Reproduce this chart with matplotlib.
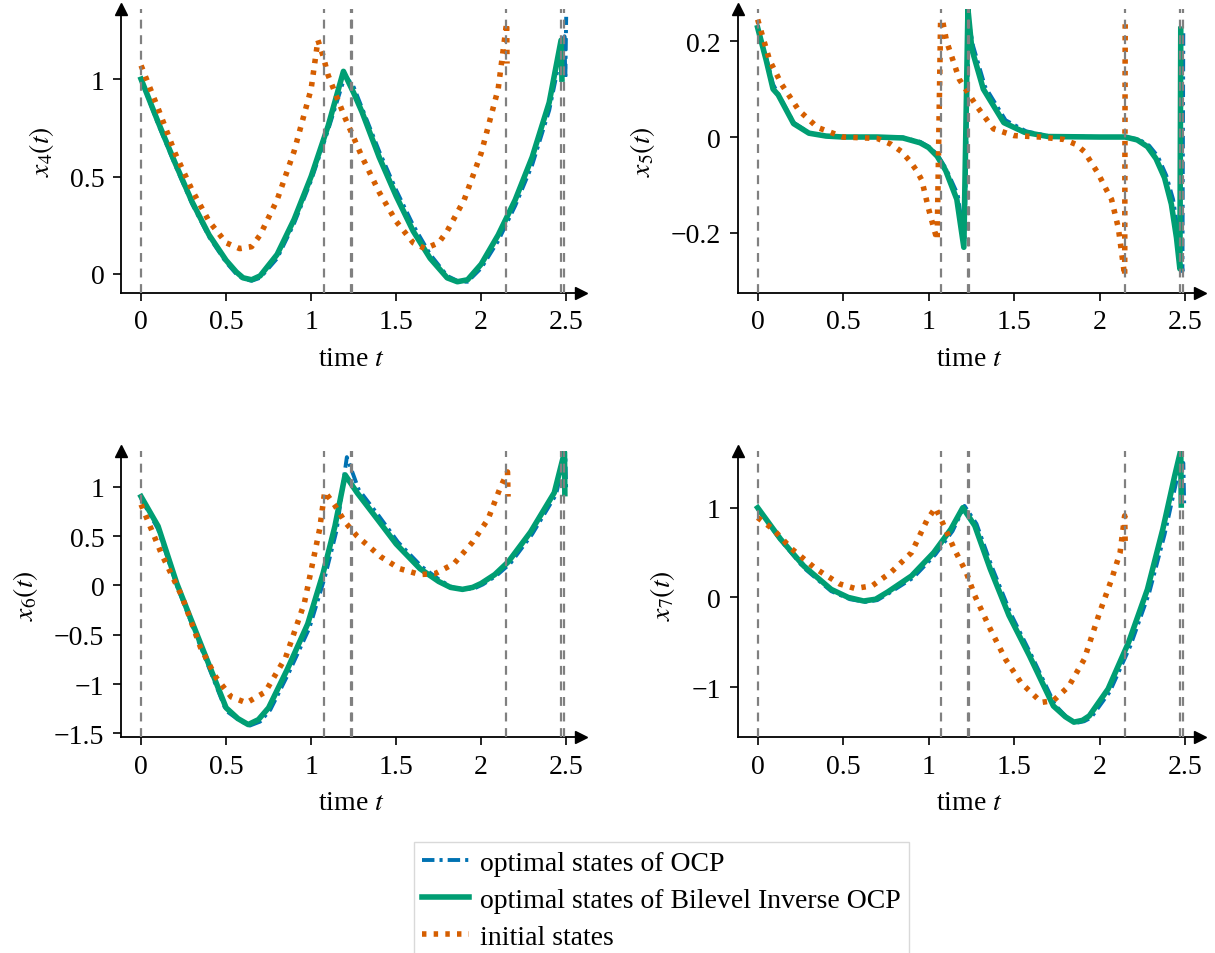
import numpy as np
import matplotlib
matplotlib.use("Agg")
import matplotlib.pyplot as plt

plt.rcParams['font.family'] = ['Liberation Serif', 'DejaVu Serif']
plt.rcParams['mathtext.fontset'] = 'stix'
plt.rcParams['font.size'] = 20

# switching times (gray dashed lines)
t_switch = [0.0, 1.075, 1.232, 1.238, 2.147, 2.468, 2.49]

# ---- x4 ----
t_bil4 = [0, 0.1, 0.2, 0.3, 0.4, 0.5, 0.56, 0.6, 0.65, 0.7, 0.8, 0.9, 1.0, 1.1, 1.19, 1.25, 1.3, 1.4, 1.5,
          1.6, 1.7, 1.8, 1.86, 1.92, 2.0, 2.1, 2.2, 2.3, 2.4, 2.47, 2.475]
x4_bil = [1.0, 0.78, 0.57, 0.37, 0.2, 0.07, 0.01, -0.02, -0.03, -0.01, 0.1, 0.28, 0.5, 0.76, 1.04, 0.93,
          0.83, 0.6, 0.4, 0.22, 0.08, -0.02, -0.04, -0.03, 0.05, 0.2, 0.38, 0.6, 0.88, 1.2, 1.0]
t_ocp4 = [0, 0.1, 0.2, 0.3, 0.4, 0.5, 0.56, 0.6, 0.65, 0.7, 0.8, 0.9, 1.0, 1.1, 1.2, 1.25, 1.3, 1.4, 1.5,
          1.6, 1.7, 1.8, 1.87, 1.92, 2.0, 2.1, 2.2, 2.3, 2.4, 2.49, 2.495, 2.5]
x4_ocp = [1.0, 0.77, 0.56, 0.36, 0.19, 0.06, 0.0, -0.025, -0.035, -0.02, 0.08, 0.26, 0.48, 0.74, 1.02,
          0.96, 0.85, 0.63, 0.43, 0.25, 0.1, -0.01, -0.04, -0.04, 0.03, 0.17, 0.35, 0.56, 0.84, 1.22, 1.0, 1.32]
t_ini4 = [0, 0.1, 0.2, 0.3, 0.4, 0.5, 0.58, 0.65, 0.7, 0.8, 0.9, 1.0, 1.04, 1.07, 1.1, 1.2, 1.3, 1.4,
          1.5, 1.6, 1.67, 1.75, 1.8, 1.9, 2.0, 2.1, 2.15, 2.152]
x4_ini = [1.07, 0.85, 0.62, 0.43, 0.27, 0.16, 0.13, 0.14, 0.2, 0.38, 0.63, 0.95, 1.2, 1.12, 1.02, 0.8, 0.6,
          0.42, 0.27, 0.16, 0.13, 0.16, 0.22, 0.38, 0.62, 0.95, 1.29, 1.08]

# ---- x5 ----
t_bil5 = [0, 0.05, 0.09, 0.12, 0.21, 0.3, 0.4, 0.5, 0.7, 0.85, 0.95, 1.0, 1.05, 1.1, 1.165, 1.206, 1.23,
          1.253, 1.32, 1.44, 1.56, 1.7, 2.0, 2.15, 2.22, 2.28, 2.33, 2.38, 2.42, 2.45, 2.47, 2.475]
x5_bil = [0.228, 0.16, 0.1, 0.088, 0.028, 0.008, 0.002, 0.0, 0.0, -0.002, -0.012, -0.022, -0.04, -0.07,
          -0.13, -0.23, 0.267, 0.183, 0.1, 0.03, 0.01, 0.001, 0.0, 0.0, -0.006, -0.02, -0.045, -0.085,
          -0.14, -0.21, -0.275, 0.225]
t_ocp5 = [0, 0.05, 0.09, 0.12, 0.21, 0.3, 0.4, 0.5, 0.7, 0.85, 0.95, 1.0, 1.05, 1.1, 1.17, 1.21, 1.235,
          1.26, 1.33, 1.45, 1.57, 1.7, 2.0, 2.15, 2.23, 2.29, 2.34, 2.39, 2.43, 2.46, 2.485, 2.49]
x5_ocp = [0.228, 0.165, 0.11, 0.09, 0.03, 0.009, 0.002, 0.0, 0.0, -0.001, -0.01, -0.02, -0.036, -0.065,
          -0.12, -0.22, 0.24, 0.19, 0.105, 0.035, 0.012, 0.002, 0.0, 0.0, -0.005, -0.018, -0.04, -0.08,
          -0.13, -0.2, -0.28, 0.225]
t_ini5 = [0, 0.07, 0.14, 0.24, 0.35, 0.5, 0.7, 0.78, 0.84, 0.89, 0.93, 0.96, 1.0, 1.03, 1.05, 1.07, 1.08,
          1.105, 1.18, 1.28, 1.38, 1.5, 1.65, 1.79, 1.86, 1.91, 1.99, 2.04, 2.07, 2.11, 2.147, 2.15]
x5_ini = [0.245, 0.16, 0.11, 0.056, 0.02, 0.0, -0.003, -0.015, -0.03, -0.05, -0.07, -0.09, -0.15, -0.19,
          -0.215, 0.24, 0.245, 0.2, 0.12, 0.065, 0.017, 0.003, 0.0, -0.005, -0.015, -0.03, -0.075, -0.11,
          -0.13, -0.19, -0.29, 0.24]

# ---- x6 ----
t_bil6 = [0, 0.1, 0.21, 0.35, 0.5, 0.57, 0.63, 0.69, 0.75, 0.86, 0.98, 1.07, 1.14, 1.2, 1.27, 1.39, 1.5,
          1.64, 1.75, 1.82, 1.89, 1.95, 2.0, 2.08, 2.16, 2.29, 2.43, 2.49, 2.492]
x6_bil = [0.9, 0.6, 0.02, -0.59, -1.24, -1.35, -1.41, -1.36, -1.24, -0.85, -0.39, 0.12, 0.6, 1.12, 0.94,
          0.67, 0.42, 0.17, 0.04, -0.02, -0.04, -0.02, 0.02, 0.11, 0.24, 0.54, 0.94, 1.35, 0.93]
t_ocp6 = [0, 0.1, 0.21, 0.35, 0.5, 0.58, 0.64, 0.7, 0.76, 0.87, 0.99, 1.08, 1.15, 1.21, 1.28, 1.4, 1.51,
          1.65, 1.76, 1.83, 1.9, 1.96, 2.01, 2.09, 2.17, 2.3, 2.44, 2.495, 2.5]
x6_ocp = [0.88, 0.57, 0.0, -0.62, -1.27, -1.37, -1.42, -1.38, -1.26, -0.88, -0.43, 0.08, 0.56, 1.3, 0.97,
          0.7, 0.44, 0.19, 0.05, -0.02, -0.04, -0.03, 0.01, 0.1, 0.22, 0.52, 0.92, 1.33, 0.95]
t_ini6 = [0, 0.12, 0.24, 0.35, 0.44, 0.53, 0.62, 0.73, 0.85, 0.96, 1.05, 1.08, 1.14, 1.2, 1.27, 1.41, 1.52,
          1.64, 1.73, 1.84, 1.95, 2.04, 2.11, 2.155, 2.158]
x6_ini = [0.82, 0.32, -0.11, -0.63, -0.93, -1.13, -1.19, -1.08, -0.73, -0.18, 0.57, 0.95, 0.81, 0.64, 0.5,
          0.29, 0.17, 0.11, 0.12, 0.22, 0.44, 0.67, 0.98, 1.15, 0.9]

# ---- x7 ----
t_bil7 = [0, 0.134, 0.27, 0.43, 0.53, 0.62, 0.69, 0.76, 0.9, 1.03, 1.13, 1.2, 1.27, 1.36, 1.47, 1.59, 1.73,
          1.8, 1.85, 1.9, 1.94, 2.05, 2.17, 2.28, 2.37, 2.44, 2.475, 2.478]
x7_bil = [1.0, 0.65, 0.35, 0.09, 0.0, -0.04, -0.02, 0.06, 0.24, 0.5, 0.76, 1.0, 0.8, 0.32, -0.2, -0.65,
          -1.21, -1.33, -1.39, -1.37, -1.32, -1.02, -0.5, 0.09, 0.76, 1.36, 1.64, 1.03]
t_ocp7 = [0, 0.134, 0.27, 0.43, 0.54, 0.63, 0.7, 0.77, 0.91, 1.04, 1.14, 1.21, 1.28, 1.37, 1.48, 1.6, 1.74,
          1.81, 1.86, 1.91, 1.95, 2.06, 2.18, 2.29, 2.38, 2.45, 2.49, 2.495]
x7_ocp = [0.99, 0.64, 0.33, 0.07, -0.02, -0.05, -0.03, 0.05, 0.22, 0.48, 0.74, 1.02, 0.82, 0.34, -0.18,
          -0.64, -1.2, -1.34, -1.4, -1.38, -1.34, -1.05, -0.54, 0.05, 0.7, 1.3, 1.5, 1.05]
t_ini7 = [0, 0.09, 0.2, 0.34, 0.48, 0.57, 0.67, 0.78, 0.9, 0.99, 1.04, 1.08, 1.15, 1.22, 1.27, 1.36, 1.45,
          1.54, 1.66, 1.73, 1.82, 1.91, 2.0, 2.07, 2.12, 2.147, 2.15]
x7_ini = [0.89, 0.76, 0.54, 0.32, 0.15, 0.1, 0.13, 0.28, 0.5, 0.86, 1.0, 0.84, 0.54, 0.28, 0.02, -0.35,
          -0.69, -0.95, -1.17, -1.15, -0.99, -0.69, -0.17, 0.2, 0.5, 0.91, 0.58]

panels = [
    (t_ocp4, x4_ocp, t_bil4, x4_bil, t_ini4, x4_ini, r'$x_4(t)$', (-0.097, 1.36), [0, 0.5, 1], ['0', '0.5', '1']),
    (t_ocp5, x5_ocp, t_bil5, x5_bil, t_ini5, x5_ini, r'$x_5(t)$', (-0.325, 0.267), [-0.2, 0, 0.2], ['\u22120.2', '0', '0.2']),
    (t_ocp6, x6_ocp, t_bil6, x6_bil, t_ini6, x6_ini, r'$x_6(t)$', (-1.54, 1.36), [-1.5, -1, -0.5, 0, 0.5, 1],
     ['\u22121.5', '\u22121', '\u22120.5', '0', '0.5', '1']),
    (t_ocp7, x7_ocp, t_bil7, x7_bil, t_ini7, x7_ini, r'$x_7(t)$', (-1.56, 1.63), [-1, 0, 1], ['\u22121', '0', '1']),
]

xticks = [0, 0.5, 1, 1.5, 2, 2.5]
xticklabels = ['0', '0.5', '1', '1.5', '2', '2.5']

fig = plt.figure(figsize=(12.15, 9.54), dpi=100)
boxes = [
    [0.0996, 0.692, 0.379, 0.2975],
    [0.607, 0.692, 0.381, 0.2975],
    [0.0996, 0.226, 0.379, 0.300],
    [0.607, 0.226, 0.381, 0.300],
]

blue = '#0072B2'
green = '#009E73'
orange = '#D55E00'

for box, p in zip(boxes, panels):
    t_o, y_o, t_b, y_b, t_i, y_i, ylab, ylim, yt, ytl = p
    ax = fig.add_axes(box)
    l1, = ax.plot(t_o, y_o, color=blue, lw=2.8, linestyle=(0, (3.2, 1.3, 0.8, 1.3)),
                  label='optimal states of OCP')
    l2, = ax.plot(t_b, y_b, color=green, lw=4, label='optimal states of Bilevel Inverse OCP')
    l3, = ax.plot(t_i, y_i, color=orange, lw=4, linestyle=(0, (0.8, 1.3)), label='initial states')
    for ts in t_switch:
        ax.axvline(ts, color='#808080', lw=1.6, linestyle=(0, (4, 3)), zorder=5)
    ax.set_xlim(-0.118, 2.59)
    ax.set_ylim(*ylim)
    ax.set_xticks(xticks)
    ax.set_xticklabels(xticklabels)
    ax.set_yticks(yt)
    ax.set_yticklabels(ytl)
    ax.set_xlabel('time $t$', labelpad=8)
    ax.set_ylabel(ylab, labelpad=10)
    for s in ['top', 'right']:
        ax.spines[s].set_visible(False)
    for s in ['left', 'bottom']:
        ax.spines[s].set_linewidth(1.3)
    ax.tick_params(direction='out', length=6, width=1.2, pad=6)
    ax.plot(1, 0, '>k', ms=9, transform=ax.transAxes, clip_on=False)
    ax.plot(0, 1, '^k', ms=9, transform=ax.transAxes, clip_on=False)

fig.legend(handles=[l1, l2, l3], loc='upper center', bbox_to_anchor=(0.5445, 0.1164),
           borderaxespad=0, frameon=True, fancybox=False, edgecolor='#d0d0d0', handlelength=1.7,
           borderpad=0.3, labelspacing=0.42, handletextpad=0.4, fontsize=20)

fig.savefig('out.png', dpi=100)
